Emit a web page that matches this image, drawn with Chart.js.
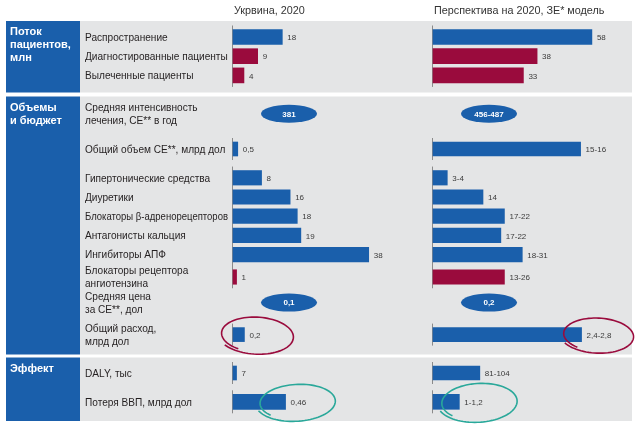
<!DOCTYPE html>
<html lang="ru">
<head>
<meta charset="UTF-8">
<title>Поток пациентов, объемы и бюджет, эффект</title>
<script src="https://cdn.jsdelivr.net/npm/chart.js"></script>
<style>
  body { margin: 0; background: #fff; }
  canvas { display: block; }
</style>
</head>
<body>
<canvas id="chart" width="639" height="427"></canvas>
<script>
// ---------- data ----------
const columnTitles = ['Укрвина, 2020', 'Перспектива на 2020, ЗЕ* модель'];
const sectionTitles = [['Поток', 'пациентов,', 'млн'], ['Объемы', 'и бюджет'], ['Эффект']];

const patientRows = [['Распространение'], ['Диагностированные пациенты'], ['Вылеченные пациенты']];
const patientsUa = [18, 9, 4];
const patientsModel = [58, 38, 33];
const patientsUaText = ['18', '9', '4'];
const patientsModelText = ['58', '38', '33'];

const intensityRow = ['Средняя интенсивность', 'лечения, СЕ** в год'];
const intensityText = ['381', '456-487'];

const volumeRow = ['Общий объем СЕ**, млрд дол'];
const volumeUa = [0.5];
const volumeModel = [15.5];
const volumeUaText = ['0,5'];
const volumeModelText = ['15-16'];

const drugRows = [['Гипертонические средства'], ['Диуретики'], ['Блокаторы β-адренорецепторов'],
  ['Антагонисты кальция'], ['Ингибиторы АПФ'], ['Блокаторы рецептора', 'ангиотензина']];
const drugsUa = [8, 16, 18, 19, 38, 1];
const drugsModel = [4, 14, 20, 19, 25, 20];
const drugsUaText = ['8', '16', '18', '19', '38', '1'];
const drugsModelText = ['3-4', '14', '17-22', '17-22', '18-31', '13-26'];

const priceRow = ['Средняя цена', 'за СЕ**, дол'];
const priceText = ['0,1', '0,2'];

const spendRow = ['Общий расход,', 'млрд дол'];
const spendUa = [0.2];
const spendModel = [2.6];
const spendUaText = ['0,2'];
const spendModelText = ['2,4-2,8'];

const dalyRow = ['DALY, тыс'];
const dalyUa = [7];
const dalyModel = [92.5];
const dalyUaText = ['7'];
const dalyModelText = ['81-104'];

const gdpRow = ['Потеря ВВП, млрд дол'];
const gdpUa = [0.46];
const gdpModel = [1.1];
const gdpUaText = ['0,46'];
const gdpModelText = ['1-1,2'];

// ---------- layout & style ----------
const BLUE = '#1a5fab';
const CRIMSON = '#9a0b3d';
const TEAL = '#2aa89a';
const PANEL = '#e4e5e6';
const LABEL_FONT = '10.1px "Liberation Sans", Arial, sans-serif';

const allRows = [...patientRows, intensityRow, volumeRow, ...drugRows, priceRow, spendRow, dalyRow, gdpRow];
// vertical slot of each row on the category axis (rows are not evenly spaced)
const rowSlot = [0, 6, 12, 24, 35, 44, 50, 56, 62, 68, 75, 83, 93, 105, 114];
const SLOTS = 115;
const crimsonRows = [1, 2, 10];

// groups of bars, each with its own value scale (span = units across the plot width)
const groups = [
  { rows: [0, 1, 2], ua: patientsUa, model: patientsModel, uaText: patientsUaText, modelText: patientsModelText, span: [146, 146], thick: 15 },
  { rows: [4], ua: volumeUa, model: volumeModel, uaText: volumeUaText, modelText: volumeModelText, span: [42, 42], thick: 14 },
  { rows: [5, 6, 7, 8, 9, 10], ua: drugsUa, model: drugsModel, uaText: drugsUaText, modelText: drugsModelText, span: [112, 112], thick: 14.5 },
  { rows: [12], ua: spendUa, model: spendModel, uaText: spendUaText, modelText: spendModelText, span: [7, 7], thick: 14 },
  { rows: [13], ua: dalyUa, model: dalyModel, uaText: dalyUaText, modelText: dalyModelText, span: [790, 790], thick: 14 },
  { rows: [14], ua: gdpUa, model: gdpModel, uaText: gdpUaText, modelText: gdpModelText, span: [3.5, 16.7], thick: 15 }
];
const ovalRows = [[3, intensityText], [11, priceText]];
const loops = [
  { group: 3, col: 0, color: CRIMSON, dx: 12, rx: 38, ry: 19, rot: 0.06, start: 2.1 },
  { group: 3, col: 1, color: CRIMSON, dx: 16, rx: 37, ry: 18, rot: 0.05, start: 2.2 },
  { group: 5, col: 0, color: TEAL, dx: 11, rx: 40, ry: 19, rot: -0.05, start: 2.4 },
  { group: 5, col: 1, color: TEAL, dx: 19, rx: 40, ry: 20, rot: -0.05, start: 2.4 }
];

const slotLabels = Array.from({ length: SLOTS }, (_, i) => {
  const r = rowSlot.indexOf(i);
  return r >= 0 ? allRows[r].join(' ') : '';
});

const datasets = [];
const xScales = {};
groups.forEach((g, gi) => {
  [0, 1].forEach(col => {
    const values = col === 0 ? g.ua : g.model;
    const data = new Array(SLOTS).fill(null);
    const colors = new Array(SLOTS).fill(BLUE);
    g.rows.forEach((r, k) => {
      data[rowSlot[r]] = values[k];
      if (crimsonRows.includes(r)) colors[rowSlot[r]] = CRIMSON;
    });
    const id = 'x' + gi + col;
    const span = g.span[col];
    xScales[id] = col === 0
      ? { type: 'linear', display: false, min: 0, max: span }
      : { type: 'linear', display: false, min: -span / 2, max: span / 2 };
    datasets.push({
      data: data,
      xAxisID: id,
      backgroundColor: colors,
      barThickness: g.thick,
      grouped: false,
      clip: false,
      texts: col === 0 ? g.uaText : g.modelText,
      groupIndex: gi,
      col: col
    });
  });
});

function drawLoop(ctx, cx, cy, rx, ry, rot, start, color) {
  ctx.save();
  ctx.translate(cx, cy);
  ctx.rotate(rot);
  ctx.beginPath();
  const sweep = Math.PI * 2 + 0.4;
  for (let i = 0; i <= 90; i++) {
    const t = i / 90;
    const a = start + sweep * t;
    const k = 0.9 + 0.12 * t;
    const px = Math.cos(a) * rx * k, py = Math.sin(a) * ry * k;
    if (i === 0) ctx.moveTo(px, py); else ctx.lineTo(px, py);
  }
  ctx.strokeStyle = color;
  ctx.lineWidth = 1.6;
  ctx.stroke();
  ctx.restore();
}

const infographic = {
  id: 'infographic',
  beforeDraw(chart) {
    const ctx = chart.ctx;
    const y = chart.scales.y;
    ctx.save();
    ctx.fillStyle = '#fff';
    ctx.fillRect(0, 0, chart.width, chart.height);

    // panels
    const panels = [[21, 92.5], [96.5, 354.5], [357.5, 421]];
    panels.forEach((p, i) => {
      ctx.fillStyle = PANEL;
      ctx.fillRect(80, p[0], 552, p[1] - p[0]);
      ctx.fillStyle = BLUE;
      ctx.fillRect(6, p[0], 74, p[1] - p[0]);
      ctx.fillStyle = '#fff';
      ctx.font = 'bold 11px "Liberation Sans", Arial, sans-serif';
      ctx.textBaseline = 'middle';
      sectionTitles[i].forEach((line, k) => ctx.fillText(line, 10, p[0] + 11 + k * 13));
    });

    // column headers
    ctx.fillStyle = '#333';
    ctx.font = '10.8px "Liberation Sans", Arial, sans-serif';
    ctx.fillText(columnTitles[0], chart.scales.x00.getPixelForValue(0) + 1, 11);
    ctx.fillText(columnTitles[1], chart.scales.x01.getPixelForValue(0) + 1, 11);

    // row labels
    ctx.fillStyle = '#231f20';
    ctx.font = LABEL_FONT;
    allRows.forEach((lines, r) => {
      const cy = y.getPixelForValue(rowSlot[r]) + 1;
      lines.forEach((line, k) => {
        ctx.fillText(line, 85, cy + (k - (lines.length - 1) / 2) * 13.3, 143);
      });
    });
    ctx.restore();
  },
  beforeDatasetsDraw(chart) {
    const ctx = chart.ctx;
    ctx.save();
    ctx.strokeStyle = '#8a8a8a';
    ctx.lineWidth = 1;
    chart.data.datasets.forEach((ds, di) => {
      const meta = chart.getDatasetMeta(di);
      let top = Infinity, bottom = -Infinity, base = null;
      meta.data.forEach((el, i) => {
        if (ds.data[i] === null) return;
        top = Math.min(top, el.y - ds.barThickness / 2 - 4);
        bottom = Math.max(bottom, el.y + ds.barThickness / 2 + 4);
        base = el.base;
      });
      if (base === null) return;
      ctx.beginPath();
      ctx.moveTo(Math.round(base) - 0.5, top);
      ctx.lineTo(Math.round(base) - 0.5, bottom);
      ctx.stroke();
    });
    ctx.restore();
  },
  afterDatasetsDraw(chart) {
    const ctx = chart.ctx;
    const y = chart.scales.y;
    ctx.save();
    ctx.textBaseline = 'middle';

    // value labels
    ctx.font = '8px "Liberation Sans", Arial, sans-serif';
    ctx.fillStyle = '#3a3a3a';
    chart.data.datasets.forEach((ds, di) => {
      const meta = chart.getDatasetMeta(di);
      let k = 0;
      meta.data.forEach((el, i) => {
        if (ds.data[i] === null) return;
        ctx.fillText(ds.texts[k++], el.x + 5, el.y + 1);
      });
    });

    // ovals with single values
    ovalRows.forEach(([r, texts]) => {
      const cy = y.getPixelForValue(rowSlot[r]);
      [chart.scales.x00, chart.scales.x01].forEach((sc, col) => {
        const cx = sc.getPixelForValue(0) + 56;
        ctx.beginPath();
        ctx.ellipse(cx, cy, 28, 9, 0, 0, Math.PI * 2);
        ctx.fillStyle = BLUE;
        ctx.fill();
        ctx.fillStyle = '#fff';
        ctx.font = 'bold 8px "Liberation Sans", Arial, sans-serif';
        ctx.textAlign = 'center';
        ctx.fillText(texts[col], cx, cy + 0.5);
        ctx.textAlign = 'left';
      });
    });

    // hand-drawn highlight loops around selected bars
    loops.forEach(l => {
      const di = chart.data.datasets.findIndex(ds => ds.groupIndex === l.group && ds.col === l.col);
      const ds = chart.data.datasets[di];
      const meta = chart.getDatasetMeta(di);
      const el = meta.data.find((e, i) => ds.data[i] !== null);
      drawLoop(ctx, el.x + l.dx, el.y + 0.5, l.rx, l.ry, l.rot, l.start, l.color);
    });
    ctx.restore();
  }
};

new Chart(document.getElementById('chart'), {
  type: 'bar',
  data: { labels: slotLabels, datasets: datasets },
  options: {
    indexAxis: 'y',
    responsive: false,
    animation: false,
    layout: { padding: { left: 233, right: 6, top: 35.4, bottom: 23.6 } },
    scales: Object.assign({
      y: { type: 'category', display: false, grid: { display: false } }
    }, xScales),
    plugins: { legend: { display: false }, tooltip: { enabled: false } }
  },
  plugins: [infographic]
});
</script>
</body>
</html>
